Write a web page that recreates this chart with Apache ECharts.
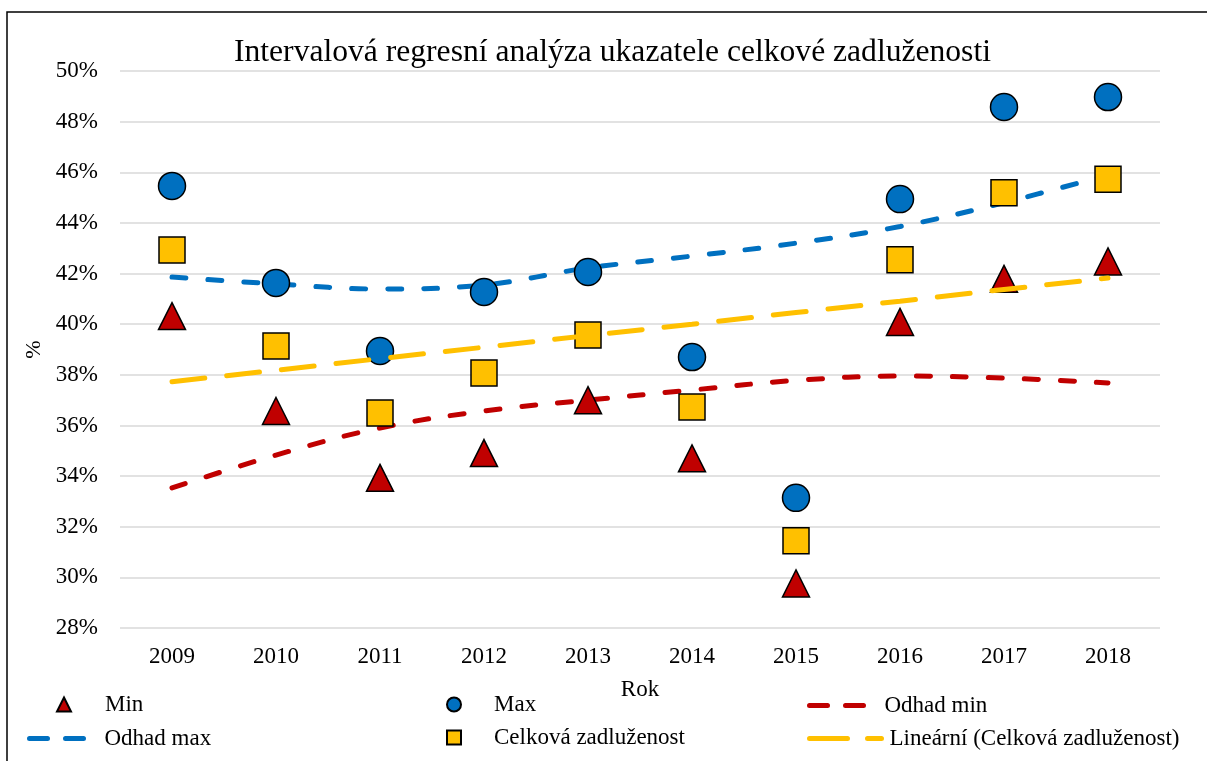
<!DOCTYPE html>
<html>
<head>
<meta charset="utf-8">
<script src="https://cdn.jsdelivr.net/npm/echarts@6/dist/echarts.min.js"></script>
<style>
  html, body { margin: 0; padding: 0; background: #fff; }
  #chart { width: 1207px; height: 761px; }
</style>
</head>
<body>
<div id="chart"></div>
<script>
    // roky a hodnoty v %
    const years = ['2009', '2010', '2011', '2012', '2013', '2014', '2015', '2016', '2017', '2018'];
    const minVals = [40.32, 36.57, 33.93, 34.91, 37.0, 34.70, 29.76, 40.09, 41.79, 42.48];
    const maxVals = [45.46, 41.63, 38.94, 41.27, 42.06, 38.70, 33.14, 44.94, 48.58, 48.97];
    const celkova = [42.93, 39.14, 36.49, 38.07, 39.57, 36.73, 31.45, 42.54, 45.19, 45.72];
    const odhadMin = [33.53, 34.83, 35.90, 36.57, 37.0, 37.40, 37.78, 37.95, 37.87, 37.68];
    const odhadMax = [41.86, 41.59, 41.39, 41.55, 42.22, 42.69, 43.2, 43.86, 44.8, 45.9];
    const linearni = [37.73, 38.18, 38.64, 39.09, 39.55, 40.0, 40.46, 40.91, 41.37, 41.82];
    const yTicks = { min: 28, max: 50, step: 2 };

    const font = "'Liberation Serif', 'Times New Roman', serif";
    const red = '#C00000', blue = '#0070C0', yellow = '#FFC000';

    let chart = echarts.init(document.getElementById('chart'));

    function legendItem(name, left, top, w, h, pad, dash) {
        let lg = {
            data: [name],
            left: left,
            top: top,
            padding: 0,
            itemWidth: w,
            itemHeight: h,
            selectedMode: false,
            textStyle: {
                fontFamily: font,
                fontSize: 23,
                color: '#000',
                padding: [0, 0, 0, pad]
            }
        };
        if (dash) {
            // jen čára, bez značky
            lg.itemStyle = { opacity: 0 };
            lg.lineStyle = { width: 5, cap: 'round', opacity: 1, type: dash };
        }
        return lg;
    }

    let option = {
        backgroundColor: '#fff',
        animation: false,
        title: {
            text: 'Intervalová regresní analýza ukazatele celkové zadluženosti',
            left: 229,
            top: 32,
            textStyle: {
                fontFamily: font,
                fontWeight: 'normal',
                fontSize: 31.6,
                color: '#000'
            }
        },
        graphic: [{
            type: 'rect',
            shape: { x: 7, y: 12, width: 1220, height: 780 },
            style: { fill: 'none', stroke: '#000', lineWidth: 1.5 },
            silent: true
        }],
        legend: [
            legendItem('Min', 56, 693, 14, 14, 29),
            legendItem('Max', 446, 693, 14, 14, 28),
            legendItem('Odhad min', 807, 694, 58, 20, 12, [18, 18]),
            legendItem('Odhad max', 27, 727, 58, 20, 12, [18, 18]),
            legendItem('Celková zadluženost', 446, 726, 14, 14, 28),
            legendItem('Lineární (Celková zadluženost)', 807, 727, 72, 20, 3, [38, 20])
        ],
        grid: {
            left: 120,
            right: 47,
            top: 71,
            bottom: 133
        },
        xAxis: {
            type: 'category',
            data: years,
            boundaryGap: true,
            name: 'Rok',
            nameLocation: 'middle',
            nameGap: 50,
            nameTextStyle: { fontFamily: font, fontSize: 23, color: '#000' },
            axisLine: { show: false },
            axisTick: { show: false },
            axisLabel: { fontFamily: font, fontSize: 23, color: '#000', margin: 17 }
        },
        yAxis: {
            type: 'value',
            min: yTicks.min,
            max: yTicks.max,
            interval: yTicks.step,
            name: '%',
            nameLocation: 'middle',
            nameRotate: 90,
            nameGap: 73,
            nameTextStyle: { fontFamily: font, fontSize: 22, color: '#000' },
            axisLine: { show: false },
            axisTick: { show: false },
            axisLabel: {
                fontFamily: font, fontSize: 23, color: '#000', margin: 22,
                formatter: '{value}%'
            },
            splitLine: { lineStyle: { color: '#d9d9d9', width: 1.5 } }
        },
        series: [
            {
                name: 'Min',
                type: 'scatter',
                data: minVals,
                symbol: 'triangle',
                symbolSize: 27,
                z: 3,
                itemStyle: { color: red, opacity: 1, borderColor: '#000', borderWidth: 1.5 }
            },
            {
                name: 'Max',
                type: 'scatter',
                data: maxVals,
                symbol: 'circle',
                symbolSize: 27,
                z: 3,
                itemStyle: { color: blue, opacity: 1, borderColor: '#000', borderWidth: 1.5 }
            },
            {
                name: 'Odhad min',
                type: 'line',
                data: odhadMin,
                smooth: 0.4,
                symbol: 'none',
                z: 2,
                itemStyle: { color: red },
                lineStyle: { color: red, width: 5, type: [14, 22], cap: 'round' }
            },
            {
                name: 'Odhad max',
                type: 'line',
                data: odhadMax,
                smooth: 0.4,
                symbol: 'none',
                z: 2,
                itemStyle: { color: blue },
                lineStyle: { color: blue, width: 5, type: [14, 22], cap: 'round' }
            },
            {
                name: 'Celková zadluženost',
                type: 'scatter',
                data: celkova,
                symbol: 'rect',
                symbolSize: 26,
                z: 3,
                itemStyle: { color: yellow, opacity: 1, borderColor: '#000', borderWidth: 1.5 }
            },
            {
                name: 'Lineární (Celková zadluženost)',
                type: 'line',
                data: linearni,
                symbol: 'none',
                z: 4,
                itemStyle: { color: yellow },
                lineStyle: { color: yellow, width: 5, type: [33, 22], cap: 'round' }
            }
        ]
    };
    chart.setOption(option);
</script>
</body>
</html>
